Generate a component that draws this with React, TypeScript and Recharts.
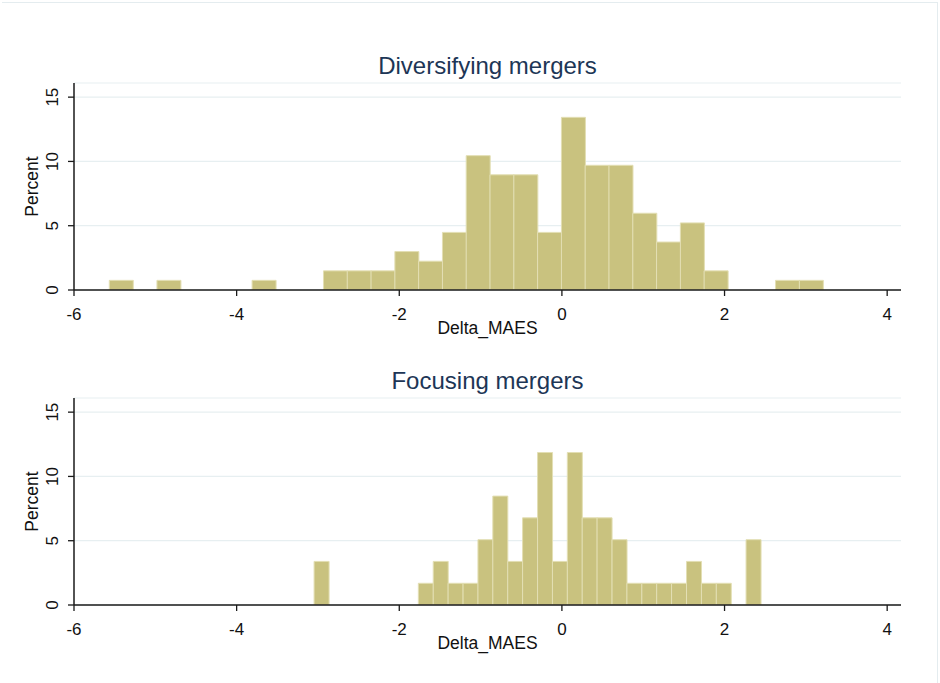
import React from 'react';
import { ComposedChart, Bar, XAxis, YAxis, CartesianGrid } from 'recharts';

// Shared axis ticks
const xTicks = [-6, -4, -2, 0, 2, 4];
const yTicks = [0, 5, 10, 15];

// Diversifying mergers: bin midpoints of Delta_MAES and percent of observations
const diversifyingBins = [
  -5.42, -5.127, -4.834, -4.542, -4.249, -3.957, -3.664, -3.371, -3.079, -2.786,
  -2.494, -2.201, -1.908, -1.616, -1.323, -1.031, -0.738, -0.445, -0.153, 0.14,
  0.432, 0.725, 1.018, 1.31, 1.603, 1.895, 2.188, 2.481, 2.773, 3.066,
];
const diversifyingPct = [
  0.75, 0, 0.75, 0, 0, 0, 0.75, 0, 0, 1.49,
  1.49, 1.49, 2.99, 2.24, 4.48, 10.45, 8.96, 8.96, 4.48, 13.43,
  9.7, 9.7, 5.97, 3.73, 5.22, 1.49, 0, 0, 0.75, 0.75,
];

// Focusing mergers: bin midpoints of Delta_MAES and percent of observations
const focusingBins = [
  -2.956, -2.773, -2.59, -2.407, -2.224, -2.04, -1.857, -1.674, -1.491, -1.308,
  -1.124, -0.941, -0.758, -0.575, -0.392, -0.208, -0.025, 0.158, 0.341, 0.524,
  0.708, 0.891, 1.074, 1.257, 1.44, 1.624, 1.807, 1.99, 2.173, 2.356,
];
const focusingPct = [
  3.39, 0, 0, 0, 0, 0, 0, 1.69, 3.39, 1.69,
  1.69, 5.08, 8.47, 3.39, 6.78, 11.86, 3.39, 11.86, 6.78, 6.78,
  5.08, 1.69, 1.69, 1.69, 1.69, 3.39, 1.69, 1.69, 0, 5.08,
];

const FONT = '"Liberation Sans", Arial, Helvetica, sans-serif';
const BAR_FILL = '#c9c27f';
const BAR_EDGE = '#e3dfb4';
const AXIS = '#1a1a1a';
const GRID = '#e7eff1';
const TITLE_COLOR = '#1d3656';

const PLOT_LEFT = 74;
const PLOT_RIGHT = 901;
const PLOT_TOP = 83;
const PLOT_BOTTOM = 290;
const CHART_W = 940;

function XTick(props: any) {
  const { x, y, payload } = props;
  return (
    <text x={x} y={y} textAnchor="middle" fontSize={17} fontFamily={FONT} fill="#111">
      {String(payload.value)}
    </text>
  );
}

function YTick(props: any) {
  const { x, y, payload } = props;
  return (
    <text
      x={x}
      y={y}
      transform={`rotate(-90 ${x} ${y})`}
      textAnchor="middle"
      fontSize={17}
      fontFamily={FONT}
      fill="#111"
    >
      {String(payload.value)}
    </text>
  );
}

type PanelProps = {
  title: string;
  bins: number[];
  pct: number[];
  top: number;
  height: number;
};

function HistogramPanel({ title, bins, pct, top, height }: PanelProps) {
  const data = bins.map((x, i) => ({ x, pct: pct[i] }));
  const xAxisHeight = 30;
  const yAxisWidth = 60;
  const midX = (PLOT_LEFT + PLOT_RIGHT) / 2;
  const midY = (PLOT_TOP + PLOT_BOTTOM) / 2;
  return (
    <div style={{ position: 'absolute', left: 0, top }}>
      <ComposedChart
        width={CHART_W}
        height={height}
        data={data}
        barCategoryGap={0}
        barGap={0}
        margin={{
          top: PLOT_TOP,
          right: CHART_W - PLOT_RIGHT,
          bottom: height - PLOT_BOTTOM - xAxisHeight,
          left: PLOT_LEFT - yAxisWidth,
        }}
      >
        <CartesianGrid horizontal vertical={false} stroke={GRID} strokeWidth={1.2} />
        <XAxis
          dataKey="x"
          type="number"
          domain={[-6, 4.17]}
          ticks={xTicks}
          allowDataOverflow
          height={xAxisHeight}
          tickSize={6}
          tickMargin={24}
          tick={<XTick />}
          axisLine={{ stroke: AXIS, strokeWidth: 1.5 }}
          tickLine={{ stroke: AXIS, strokeWidth: 1.3 }}
          interval={0}
        />
        <YAxis
          type="number"
          domain={[0, 16.1]}
          ticks={yTicks}
          allowDataOverflow
          width={yAxisWidth}
          tickSize={6}
          tickMargin={10}
          tick={<YTick />}
          axisLine={{ stroke: AXIS, strokeWidth: 1.5 }}
          tickLine={{ stroke: AXIS, strokeWidth: 1.3 }}
          interval={0}
        />
        <Bar
          dataKey="pct"
          fill={BAR_FILL}
          stroke={BAR_EDGE}
          strokeWidth={1}
          isAnimationActive={false}
        />
        <text
          x={midX}
          y={74}
          textAnchor="middle"
          fontSize={24}
          fontFamily={FONT}
          fill={TITLE_COLOR}
        >
          {title}
        </text>
        <text
          x={midX}
          y={334}
          textAnchor="middle"
          fontSize={17.5}
          fontFamily={FONT}
          fill="#111"
        >
          Delta_MAES
        </text>
        <text
          x={38}
          y={midY}
          transform={`rotate(-90 38 ${midY})`}
          textAnchor="middle"
          fontSize={17.5}
          fontFamily={FONT}
          fill="#111"
        >
          Percent
        </text>
      </ComposedChart>
    </div>
  );
}

export default function App() {
  return (
    <div
      style={{
        position: 'absolute',
        left: 0,
        top: 0,
        width: 940,
        height: 683,
        background: '#ffffff',
        overflow: 'hidden',
      }}
    >
      <div
        style={{
          position: 'absolute',
          left: 2,
          top: 2,
          width: 935,
          height: 700,
          borderTop: '1.5px solid #e4ecef',
          borderRight: '1.5px solid #e4ecef',
        }}
      />
      <HistogramPanel
        title="Diversifying mergers"
        bins={diversifyingBins}
        pct={diversifyingPct}
        top={0}
        height={360}
      />
      <HistogramPanel
        title="Focusing mergers"
        bins={focusingBins}
        pct={focusingPct}
        top={315}
        height={368}
      />
    </div>
  );
}
